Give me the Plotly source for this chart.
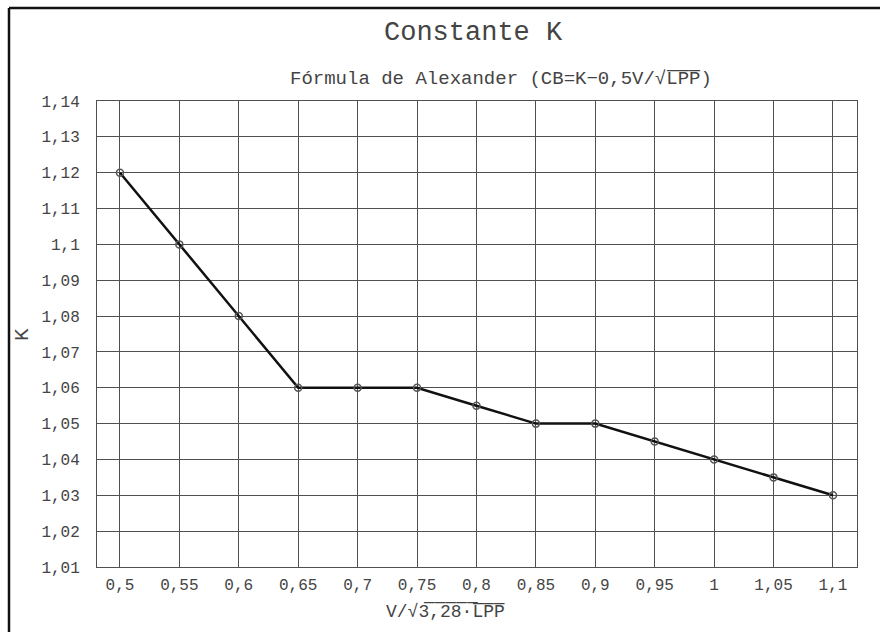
import plotly.graph_objects as go

x_vals = [0.5, 0.55, 0.6, 0.65, 0.7, 0.75, 0.8, 0.85, 0.9, 0.95, 1.0, 1.05, 1.1]
k_vals = [1.12, 1.10, 1.08, 1.06, 1.06, 1.06, 1.055, 1.05, 1.05, 1.045, 1.04, 1.035, 1.03]
x_ticks = x_vals
x_ticklabels = ["0,5", "0,55", "0,6", "0,65", "0,7", "0,75", "0,8", "0,85", "0,9", "0,95", "1", "1,05", "1,1"]
y_ticks = [1.01, 1.02, 1.03, 1.04, 1.05, 1.06, 1.07, 1.08, 1.09, 1.10, 1.11, 1.12, 1.13, 1.14]
y_ticklabels = ["1,01", "1,02", "1,03", "1,04", "1,05", "1,06", "1,07", "1,08", "1,09", "1,1", "1,11", "1,12", "1,13", "1,14"]

MONO = "Liberation Mono, Courier New, monospace"
GRID = "#505050"
TXT = "#444444"

fig = go.Figure()
fig.add_trace(go.Scatter(
    x=x_vals, y=k_vals, mode="lines+markers",
    line=dict(color="#111111", width=2.5),
    marker=dict(symbol="circle-open", size=7, color="#555555", line=dict(width=1.5)),
    showlegend=False, hoverinfo="skip",
))

W, H = 880, 632
l, r, t, b = 97, 23, 101, 65
pw, ph = W - l - r, H - t - b

def px_x(px):
    return (px - l) / pw

def px_y(py):
    return (H - b - py) / ph

fig.update_layout(
    width=W, height=H,
    margin=dict(l=l, r=r, t=t, b=b),
    paper_bgcolor="white", plot_bgcolor="white",
    font=dict(family=MONO, color=TXT, size=16),
    xaxis=dict(
        range=[0.4807, 1.1202], tickmode="array", tickvals=x_ticks, ticktext=x_ticklabels,
        showgrid=True, gridcolor=GRID, gridwidth=1, zeroline=False,
        showline=True, linecolor=GRID, linewidth=1, mirror=True,
        ticks="", ticklabelstandoff=3, tickfont=dict(family=MONO, size=16, color=TXT),
    ),
    yaxis=dict(
        range=[1.01, 1.14], tickmode="array", tickvals=y_ticks, ticktext=y_ticklabels,
        showgrid=True, gridcolor=GRID, gridwidth=1, zeroline=False,
        showline=True, linecolor=GRID, linewidth=1, mirror=True,
        ticks="", ticklabelstandoff=13, tickfont=dict(family=MONO, size=16, color=TXT),
    ),
    annotations=[
        dict(text="Constante K", x=px_x(473), y=px_y(33), xref="paper", yref="paper",
             xanchor="center", yanchor="middle", showarrow=False,
             font=dict(family=MONO, size=27, color=TXT)),
        dict(text="Fórmula de Alexander (CB=K−0,5V/√L̅P̅P̅)", x=px_x(501), y=px_y(79),
             xref="paper", yref="paper", xanchor="center", yanchor="middle",
             showarrow=False, font=dict(family=MONO, size=19, color=TXT)),
        dict(text="V/√3̅,̅2̅8̅·̅L̅P̅P̅", x=px_x(445), y=px_y(612), xref="paper", yref="paper",
             xanchor="center", yanchor="middle", showarrow=False,
             font=dict(family=MONO, size=18, color=TXT)),
        dict(text="K", x=px_x(22), y=px_y(335), xref="paper", yref="paper",
             xanchor="center", yanchor="middle", showarrow=False, textangle=-90,
             font=dict(family=MONO, size=21, color=TXT)),
    ],
    shapes=[
        dict(type="line", xref="paper", yref="paper",
             x0=px_x(9), x1=px_x(9), y0=px_y(8), y1=px_y(632),
             line=dict(color="#111111", width=2.5)),
        dict(type="line", xref="paper", yref="paper",
             x0=px_x(9), x1=px_x(880), y0=px_y(8), y1=px_y(8),
             line=dict(color="#111111", width=2.5)),
    ],
)

fig.write_html("out.html")
